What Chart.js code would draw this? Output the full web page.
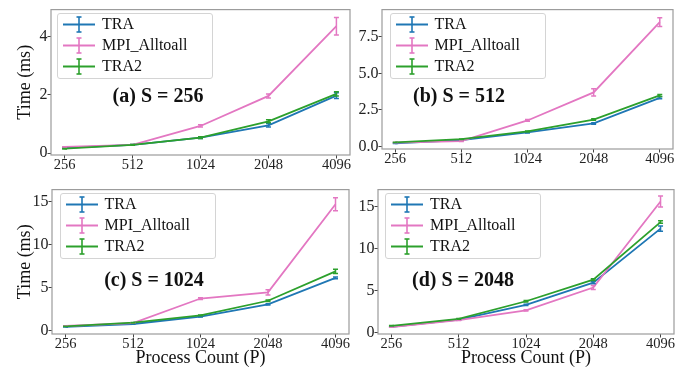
<!DOCTYPE html>
<html><head><meta charset="utf-8">
<script src="https://cdn.jsdelivr.net/npm/chart.js@4.4.1/dist/chart.umd.min.js"></script>
<style>
html,body{margin:0;padding:0;background:#fff;}
#wrap{position:relative;width:689px;height:370px;overflow:hidden;font-family:"Liberation Serif","DejaVu Serif",serif;}
canvas{position:absolute;}
.legend{position:absolute;border:1px solid #d4d4d4;border-radius:3px;background:rgba(255,255,255,0.8);width:156px;box-sizing:border-box;padding:0 0 1px 5px;font-size:16px;color:#111;}
.row{height:21px;display:flex;align-items:center;white-space:nowrap;}
.row svg{margin-right:7px;flex:none;}
.ptitle{position:absolute;font-weight:bold;font-size:20px;line-height:20px;white-space:nowrap;transform:translateX(-50%);color:#111;}
</style></head>
<body><div id="wrap"></div>
<script>
// ---------- data ----------
const processCounts = ['256', '512', '1024', '2048', '4096'];
const seriesNames = ['TRA', 'MPI_Alltoall', 'TRA2'];
const seriesColors = ['#1f77b4', '#e377c2', '#2ca02c'];
const panelTitles = ['(a) S = 256', '(b) S = 512', '(c) S = 1024', '(d) S = 2048'];

// (a) S = 256
const traS256 = [0.18, 0.28, 0.53, 0.95, 1.97];
const traErrS256 = [0.01, 0.01, 0.03, 0.06, 0.10];
const mpiS256 = [0.21, 0.28, 0.93, 1.96, 4.35];
const mpiErrS256 = [0.01, 0.01, 0.04, 0.07, 0.30];
const tra2S256 = [0.15, 0.28, 0.53, 1.09, 2.03];
const tra2ErrS256 = [0.01, 0.01, 0.03, 0.05, 0.07];
const yTicksS256 = [0, 2, 4];

// (b) S = 512
const traS512 = [0.22, 0.44, 0.96, 1.58, 3.33];
const traErrS512 = [0.01, 0.02, 0.03, 0.05, 0.07];
const mpiS512 = [0.26, 0.37, 1.78, 3.70, 8.50];
const mpiErrS512 = [0.01, 0.02, 0.06, 0.25, 0.30];
const tra2S512 = [0.28, 0.50, 1.03, 1.84, 3.49];
const tra2ErrS512 = [0.01, 0.02, 0.03, 0.05, 0.07];
const yTicksS512 = [0, 2.5, 5, 7.5];

// (c) S = 1024
const traS1024 = [0.45, 0.79, 1.65, 3.07, 6.15];
const traErrS1024 = [0.02, 0.03, 0.05, 0.08, 0.10];
const mpiS1024 = [0.56, 0.90, 3.75, 4.46, 14.7];
const mpiErrS1024 = [0.02, 0.03, 0.10, 0.30, 0.75];
const tra2S1024 = [0.52, 0.94, 1.80, 3.49, 6.90];
const tra2ErrS1024 = [0.02, 0.03, 0.05, 0.08, 0.25];
const yTicksS1024 = [0, 5, 10, 15];

// (d) S = 2048
const traS2048 = [0.66, 1.52, 3.27, 5.92, 12.35];
const traErrS2048 = [0.02, 0.04, 0.08, 0.12, 0.30];
const mpiS2048 = [0.62, 1.44, 2.61, 5.34, 15.58];
const mpiErrS2048 = [0.02, 0.04, 0.08, 0.25, 0.65];
const tra2S2048 = [0.78, 1.60, 3.70, 6.27, 13.13];
const tra2ErrS2048 = [0.02, 0.04, 0.08, 0.10, 0.15];
const yTicksS2048 = [0, 5, 10, 15];

// ---------- layout ----------
const FONT = '"Liberation Serif", "Times New Roman", serif';
const panels = [
  {title: panelTitles[0], vals: [traS256, mpiS256, tra2S256], errs: [traErrS256, mpiErrS256, tra2ErrS256], ticks: yTicksS256, dec: 0,
   ymin: -0.066, ymax: 4.92, left: 0, top: 0, w: 352, h: 180, yW: 51, pr: 2, pt: 5, xH: 25, yTitle: true, xTitle: false,
   leg: [57, 12.5], tt: [158, 85]},
  {title: panelTitles[1], vals: [traS512, mpiS512, tra2S512], errs: [traErrS512, mpiErrS512, tra2ErrS512], ticks: yTicksS512, dec: 1,
   ymin: -0.17, ymax: 9.36, left: 352, top: 0, w: 337, h: 180, yW: 30, pr: 16, pt: 5, xH: 31, yTitle: false, xTitle: false,
   leg: [389.5, 12.5], tt: [459, 85]},
  {title: panelTitles[2], vals: [traS1024, mpiS1024, tra2S1024], errs: [traErrS1024, mpiErrS1024, tra2ErrS1024], ticks: yTicksS1024, dec: 0,
   ymin: -0.37, ymax: 16.4, left: 0, top: 180, w: 352, h: 190, yW: 52, pr: 3, pt: 5, xH: 36, yTitle: true, xTitle: true,
   leg: [59.5, 192.7], tt: [154, 269.3]},
  {title: panelTitles[3], vals: [traS2048, mpiS2048, tra2S2048], errs: [traErrS2048, mpiErrS2048, tra2ErrS2048], ticks: yTicksS2048, dec: 0,
   ymin: -0.2, ymax: 17.0, left: 352, top: 180, w: 337, h: 190, yW: 26, pr: 15, pt: 5, xH: 36, yTitle: false, xTitle: true,
   leg: [385, 192.7], tt: [463, 269.3]}
];

const framePlugin = {
  id: 'frame',
  afterDatasetsDraw(chart) {
    const {ctx, chartArea: a} = chart;
    ctx.save();
    ctx.strokeStyle = '#9c9c9c';
    ctx.lineWidth = 1.2;
    ctx.strokeRect(a.left, a.top, a.right - a.left, a.bottom - a.top);
    ctx.restore();
  }
};

const errorBarPlugin = {
  id: 'errorBars',
  afterDatasetsDraw(chart) {
    const ctx = chart.ctx, xs = chart.scales.x, ys = chart.scales.y;
    ctx.save();
    ctx.lineWidth = 1.5;
    chart.data.datasets.forEach(ds => {
      ctx.strokeStyle = ds.borderColor;
      ds.data.forEach((p, j) => {
        const e = ds.errors[j];
        const x = xs.getPixelForValue(p.x);
        const y1 = ys.getPixelForValue(p.y - e);
        const y2 = ys.getPixelForValue(p.y + e);
        ctx.beginPath();
        ctx.moveTo(x, y1); ctx.lineTo(x, y2);
        ctx.moveTo(x - 2.5, y1); ctx.lineTo(x + 2.5, y1);
        ctx.moveTo(x - 2.5, y2); ctx.lineTo(x + 2.5, y2);
        ctx.stroke();
      });
    });
    ctx.restore();
  }
};

function markerSVG(color) {
  return '<svg width="32" height="21" viewBox="0 0 32 21">' +
    '<line x1="0" y1="10.5" x2="32" y2="10.5" stroke="' + color + '" stroke-width="2"/>' +
    '<line x1="16" y1="3" x2="16" y2="18" stroke="' + color + '" stroke-width="1.6"/>' +
    '<line x1="13.5" y1="3" x2="18.5" y2="3" stroke="' + color + '" stroke-width="1.6"/>' +
    '<line x1="13.5" y1="18" x2="18.5" y2="18" stroke="' + color + '" stroke-width="1.6"/>' +
    '</svg>';
}

const wrap = document.getElementById('wrap');

panels.forEach(P => {
  const cv = document.createElement('canvas');
  cv.width = P.w; cv.height = P.h;
  cv.style.left = P.left + 'px'; cv.style.top = P.top + 'px';
  cv.style.width = P.w + 'px'; cv.style.height = P.h + 'px';
  wrap.appendChild(cv);

  const datasets = seriesNames.map((name, i) => ({
    label: name,
    data: P.vals[i].map((v, j) => ({x: j, y: v})),
    errors: P.errs[i],
    borderColor: seriesColors[i],
    backgroundColor: seriesColors[i],
    borderWidth: 1.8,
    pointRadius: 0,
    tension: 0,
    order: 2 - i
  }));

  new Chart(cv, {
    type: 'line',
    data: {datasets},
    options: {
      responsive: false,
      animation: false,
      events: [],
      layout: {padding: {left: 0, right: P.pr, top: P.pt, bottom: 0}},
      plugins: {legend: {display: false}, tooltip: {enabled: false}},
      scales: {
        x: {
          type: 'linear', min: -0.2, max: 4.2,
          afterBuildTicks: s => { s.ticks = processCounts.map((_, i) => ({value: i})); },
          afterFit: s => { s.height = P.xH; },
          ticks: {callback: v => processCounts[v], font: {family: FONT, size: 14.5}, color: '#222',
                  padding: -2.5, maxRotation: 0, autoSkip: false},
          grid: {drawOnChartArea: false, tickLength: 3.5, tickColor: '#444', tickWidth: 1},
          border: {display: false},
          title: {display: P.xTitle, text: 'Process Count (P)', font: {family: FONT, size: 18},
                  color: '#111', padding: {top: 0, bottom: 1}}
        },
        y: {
          type: 'linear', min: P.ymin, max: P.ymax,
          afterBuildTicks: s => { s.ticks = P.ticks.map(v => ({value: v})); },
          afterFit: s => { s.width = P.yW; },
          ticks: {callback: v => Number(v).toFixed(P.dec), font: {family: FONT, size: 16}, color: '#222', padding: 0},
          grid: {drawOnChartArea: false, tickLength: 3.5, tickColor: '#444', tickWidth: 1},
          border: {display: false},
          title: {display: P.yTitle, text: 'Time (ms)', font: {family: FONT, size: 18},
                  color: '#111', padding: {top: 14, bottom: 0}}
        }
      }
    },
    plugins: [framePlugin, errorBarPlugin]
  });

  const leg = document.createElement('div');
  leg.className = 'legend';
  leg.style.left = P.leg[0] + 'px';
  leg.style.top = P.leg[1] + 'px';
  leg.innerHTML = seriesNames.map((n, i) =>
    '<div class="row">' + markerSVG(seriesColors[i]) + '<span>' + n + '</span></div>').join('');
  wrap.appendChild(leg);

  const t = document.createElement('div');
  t.className = 'ptitle';
  t.style.left = P.tt[0] + 'px';
  t.style.top = P.tt[1] + 'px';
  t.textContent = P.title;
  wrap.appendChild(t);
});
</script>
</body></html>
